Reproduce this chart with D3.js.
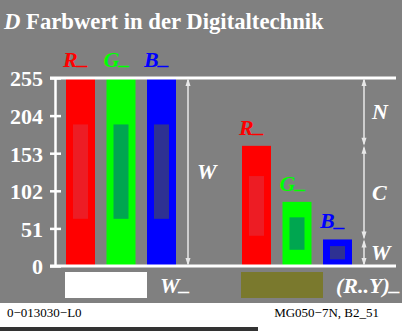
<!DOCTYPE html>
<html>
<head>
<meta charset="utf-8">
<script src="https://cdn.jsdelivr.net/npm/d3@7"></script>
<style>
  html, body { margin: 0; padding: 0; background: #ffffff; }
  svg { display: block; }
  text { font-family: "Liberation Serif", "Times New Roman", serif; }
</style>
</head>
<body>
<svg id="chart" width="413" height="331"></svg>
<script>
// Channel values (0..255) for the two groups
const channels = ["R", "G", "B"];
const groups = ["white", "mixed"];
const whiteValues = [255, 255, 255];
const mixedValues = [163, 87, 36];
// Inner highlight ranges inside each bar
const whiteInnerLo = [64, 64, 64];
const whiteInnerHi = [192, 192, 192];
const mixedInnerLo = [41, 22, 9];
const mixedInnerHi = [122, 66, 27];
const yTicks = [0, 51, 102, 153, 204, 255];
const swatchLabels = ["W", "(R..Y)"];

const barColors = { R: "#ff0000", G: "#00ff00", B: "#0000ff" };
const innerColors = { R: "#ed1c24", G: "#00a650", B: "#2e3192" };
const swatchColors = { white: "#ffffff", mixed: "#7a792d" };

const svg = d3.select("#chart");

// background panel
svg.append("rect").attr("x", 0).attr("y", 0).attr("width", 402).attr("height", 303).attr("fill", "#808080");
svg.append("rect").attr("x", 0).attr("y", 327).attr("width", 258).attr("height", 4).attr("fill", "#333333");

// title
const title = svg.append("text").attr("x", 4).attr("y", 29)
  .attr("font-size", 22.7).attr("font-weight", "bold").attr("fill", "#ffffff");
title.append("tspan").attr("font-style", "italic").text("D");
title.append("tspan").text(" Farbwert in der Digitaltechnik");

// label with a raised trailing underscore
function underscored(sel, base) {
  sel.append("tspan").text(base);
  sel.append("tspan").attr("dy", "-0.13em").text("_");
}

// scales
const y = d3.scaleLinear().domain([0, 255]).range([266, 78]);
const xGroup = d3.scaleBand().domain(groups).range([66, 352]).paddingInner(0.375).paddingOuter(0);
const xChan = d3.scaleBand().domain(channels).range([0, xGroup.bandwidth()]).paddingInner(0.284).paddingOuter(0);

const data = [];
groups.forEach((g, gi) => {
  const vals = gi === 0 ? whiteValues : mixedValues;
  const lo = gi === 0 ? whiteInnerLo : mixedInnerLo;
  const hi = gi === 0 ? whiteInnerHi : mixedInnerHi;
  channels.forEach((c, ci) => {
    data.push({ group: g, channel: c, value: vals[ci], lo: lo[ci], hi: hi[ci] });
  });
});
const bx = d => xGroup(d.group) + xChan(d.channel);

// bars
svg.append("g").selectAll("rect").data(data).join("rect")
  .attr("x", bx).attr("y", d => y(d.value))
  .attr("width", xChan.bandwidth()).attr("height", d => y(0) - y(d.value))
  .attr("fill", d => barColors[d.channel]);

// inner rectangles
const innerW = 15;
svg.append("g").selectAll("rect").data(data).join("rect")
  .attr("x", d => bx(d) + (xChan.bandwidth() - innerW) / 2)
  .attr("y", d => y(d.hi))
  .attr("width", innerW).attr("height", d => y(d.lo) - y(d.hi))
  .attr("fill", d => innerColors[d.channel]);

// bar labels
svg.append("g").selectAll("text").data(data).join("text")
  .attr("x", d => bx(d) - 3).attr("y", d => y(d.value) - 11)
  .attr("font-size", 22).attr("font-weight", "bold").attr("font-style", "italic")
  .attr("fill", d => barColors[d.channel])
  .each(function (d) { underscored(d3.select(this), d.channel); });

// axis lines
svg.append("line").attr("x1", 50).attr("x2", 396).attr("y1", y(255)).attr("y2", y(255))
  .attr("stroke", "#ffffff").attr("stroke-width", 3);
svg.append("line").attr("x1", 50).attr("x2", 396).attr("y1", y(0)).attr("y2", y(0))
  .attr("stroke", "#ffffff").attr("stroke-width", 3);
svg.append("line").attr("x1", 55.5).attr("x2", 55.5).attr("y1", y(255)).attr("y2", y(0))
  .attr("stroke", "#ffffff").attr("stroke-width", 2.5);

const yAxis = d3.axisLeft(y).tickValues(yTicks).tickSize(11).tickPadding(7).tickFormat(d3.format("d"));
const ga = svg.append("g").attr("transform", "translate(61,0)").call(yAxis);
ga.select(".domain").remove();
ga.selectAll(".tick line").attr("stroke", "#ffffff").attr("stroke-width", 2.5);
ga.selectAll(".tick text").attr("fill", "#ffffff").attr("font-size", 22).attr("font-weight", "bold")
  .attr("font-family", "'Liberation Serif', 'Times New Roman', serif").attr("dy", "0.36em");

// double-headed arrow segments
const arrowColor = "#e8e8e8";
function arrowSeg(x, v1, v2) {
  const yTop = y(Math.max(v1, v2)), yBot = y(Math.min(v1, v2));
  const g = svg.append("g");
  g.append("line").attr("x1", x).attr("x2", x).attr("y1", yTop + 2).attr("y2", yBot - 2)
    .attr("stroke", arrowColor).attr("stroke-width", 1.5);
  g.append("path").attr("d", `M${x},${yTop} L${x - 2.5},${yTop + 8} L${x + 2.5},${yTop + 8} Z`).attr("fill", arrowColor);
  g.append("path").attr("d", `M${x},${yBot} L${x - 2.5},${yBot - 8} L${x + 2.5},${yBot - 8} Z`).attr("fill", arrowColor);
}
function sideLabel(x, v1, v2, txt) {
  svg.append("text").attr("x", x).attr("y", (y(v1) + y(v2)) / 2 + 7)
    .attr("font-size", 22).attr("font-weight", "bold").attr("font-style", "italic")
    .attr("fill", "#ffffff").text(txt);
}

arrowSeg(188, 255, 0);
sideLabel(197, 255, 0, "W");

const rVal = mixedValues[0], bVal = mixedValues[2];
arrowSeg(364, 255, rVal);
arrowSeg(364, rVal, bVal);
arrowSeg(364, bVal, 0);
sideLabel(372, 255, rVal, "N");
sideLabel(372, rVal, bVal, "C");
sideLabel(371, bVal, 0, "W");

// colour swatches below the axis
groups.forEach((g, i) => {
  const x0 = xGroup(g) - 1;
  svg.append("rect").attr("x", x0).attr("y", 272).attr("width", 82).attr("height", 26)
    .attr("fill", swatchColors[g]);
  const t = svg.append("text").attr("x", x0 + 95).attr("y", 293)
    .attr("font-size", 22).attr("font-weight", "bold").attr("font-style", "italic")
    .attr("fill", "#ffffff");
  underscored(t, swatchLabels[i]);
});

// footer
svg.append("text").attr("x", 7).attr("y", 317).attr("font-size", 13).attr("fill", "#000000").text("0\u2212013030\u2212L0");
svg.append("text").attr("x", 379).attr("y", 317).attr("text-anchor", "end").attr("font-size", 13).attr("fill", "#000000").text("MG050\u22127N, B2_51");
</script>
</body>
</html>
